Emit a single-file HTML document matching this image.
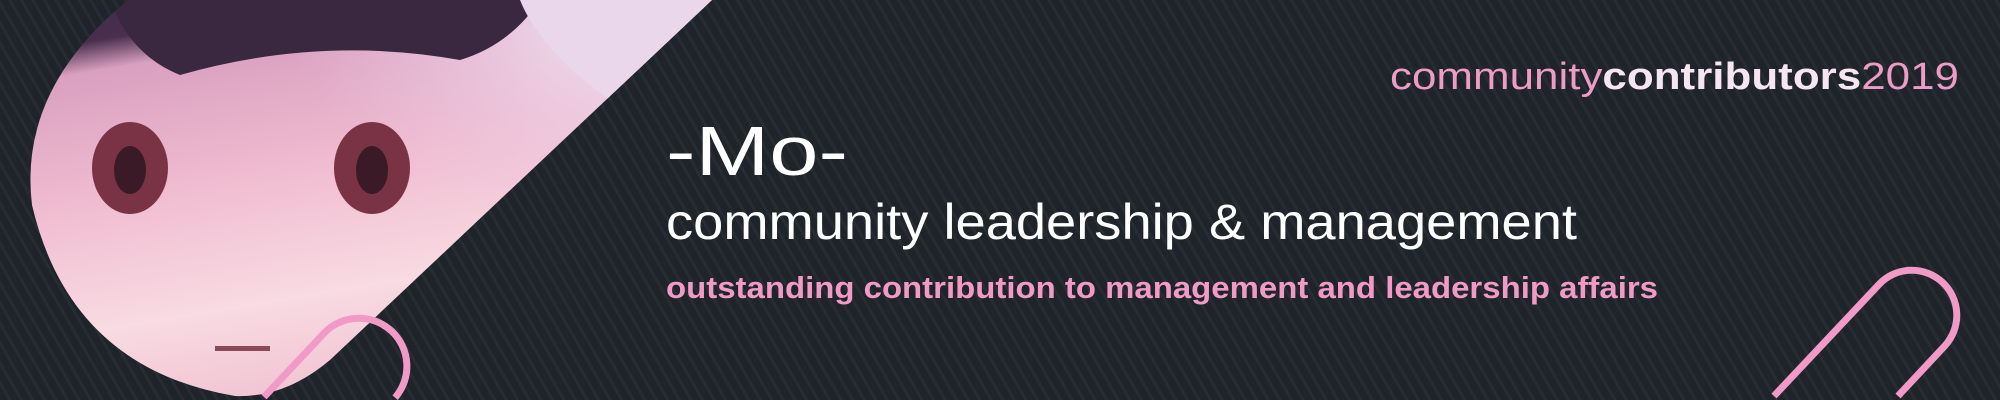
<!DOCTYPE html>
<html><head><meta charset="utf-8">
<style>
html,body{margin:0;padding:0;overflow:hidden;}
body{width:2000px;height:400px;overflow:hidden;background:#1f232a;}
#banner{position:relative;width:2000px;height:400px;overflow:hidden;
background-color:#1f232a;
background-image:repeating-linear-gradient(60deg, rgba(255,255,255,0) 0px, rgba(255,255,255,0) 7px, rgba(255,255,255,0.035) 7px, rgba(255,255,255,0.035) 10px);}
svg{position:absolute;left:0;top:0;overflow:hidden;}
</style></head>
<body>
<div id="banner">
<svg width="2000" height="400" viewBox="0 0 2000 400">
  <defs>
    <linearGradient id="skin" x1="0" y1="0" x2="0.3" y2="1">
      <stop offset="0" stop-color="#3b2a45"/>
      <stop offset="0.13" stop-color="#4a2f4e"/>
      <stop offset="0.2" stop-color="#d9a0c0"/>
      <stop offset="0.5" stop-color="#f0bcd0"/>
      <stop offset="0.8" stop-color="#f8dbe3"/>
      <stop offset="1" stop-color="#f2c6d4"/>
    </linearGradient>
    <radialGradient id="pale" cx="0.9" cy="0.05" r="0.5">
      <stop offset="0" stop-color="#f1e8f4" stop-opacity="1"/>
      <stop offset="1" stop-color="#e9c8e6" stop-opacity="0"/>
    </radialGradient>
    <clipPath id="clip"><path d="M128,0 L712,0 L330,360 Q285,398 235,396 Q70,368 32,205 Q18,90 128,0 Z"/></clipPath>
  </defs>
  <g clip-path="url(#clip)">
    <rect x="0" y="0" width="712" height="398" fill="url(#skin)"/>
    <rect x="0" y="0" width="712" height="398" fill="url(#pale)"/>
    <path d="M110,0 L540,0 Q510,45 460,60 Q320,35 180,75 Q130,55 110,0 Z" fill="#3a2740"/>
    <path d="M520,0 L712,0 L610,100 Q540,50 520,0 Z" fill="#ead7ec"/>
    <ellipse cx="130" cy="168" rx="38" ry="46" fill="#7a3345"/>
    <ellipse cx="372" cy="168" rx="38" ry="46" fill="#7a3345"/>
    <ellipse cx="130" cy="170" rx="16" ry="24" fill="#3a1a26"/>
    <ellipse cx="372" cy="170" rx="16" ry="24" fill="#3a1a26"/>
    <rect x="215" y="346" width="55" height="5" fill="#8a4a5a"/>
  </g>
  <path d="M264,397 L324.9,332.3 A48,48 0 0 1 395.1,397.7" fill="none" stroke="#f19ac7" stroke-width="7"/>
  <path d="M1774,396 L1879.1,284.3 A45,45 0 0 1 1944.9,345.7 L1898,396" fill="none" stroke="#f19ac7" stroke-width="7"/>
  <text x="1390" y="89" font-family="Liberation Sans, sans-serif" font-size="38" textLength="569" lengthAdjust="spacingAndGlyphs"><tspan fill="#ec9cc6">community</tspan><tspan fill="#f6e6ef" font-weight="bold">contributors</tspan><tspan fill="#ec9cc6">2019</tspan></text>
  <text x="666" y="175" font-family="Liberation Sans, sans-serif" font-size="70" fill="#ffffff" textLength="182" lengthAdjust="spacingAndGlyphs">-Mo-</text>
  <text x="666" y="239" font-family="Liberation Sans, sans-serif" font-size="50" fill="#ffffff" textLength="911" lengthAdjust="spacingAndGlyphs">community leadership &amp; management</text>
  <text x="666" y="298" font-family="Liberation Sans, sans-serif" font-size="31" font-weight="bold" fill="#f19ac7" textLength="992" lengthAdjust="spacingAndGlyphs">outstanding contribution to management and leadership affairs</text>
</svg>
</div>
</body></html>
